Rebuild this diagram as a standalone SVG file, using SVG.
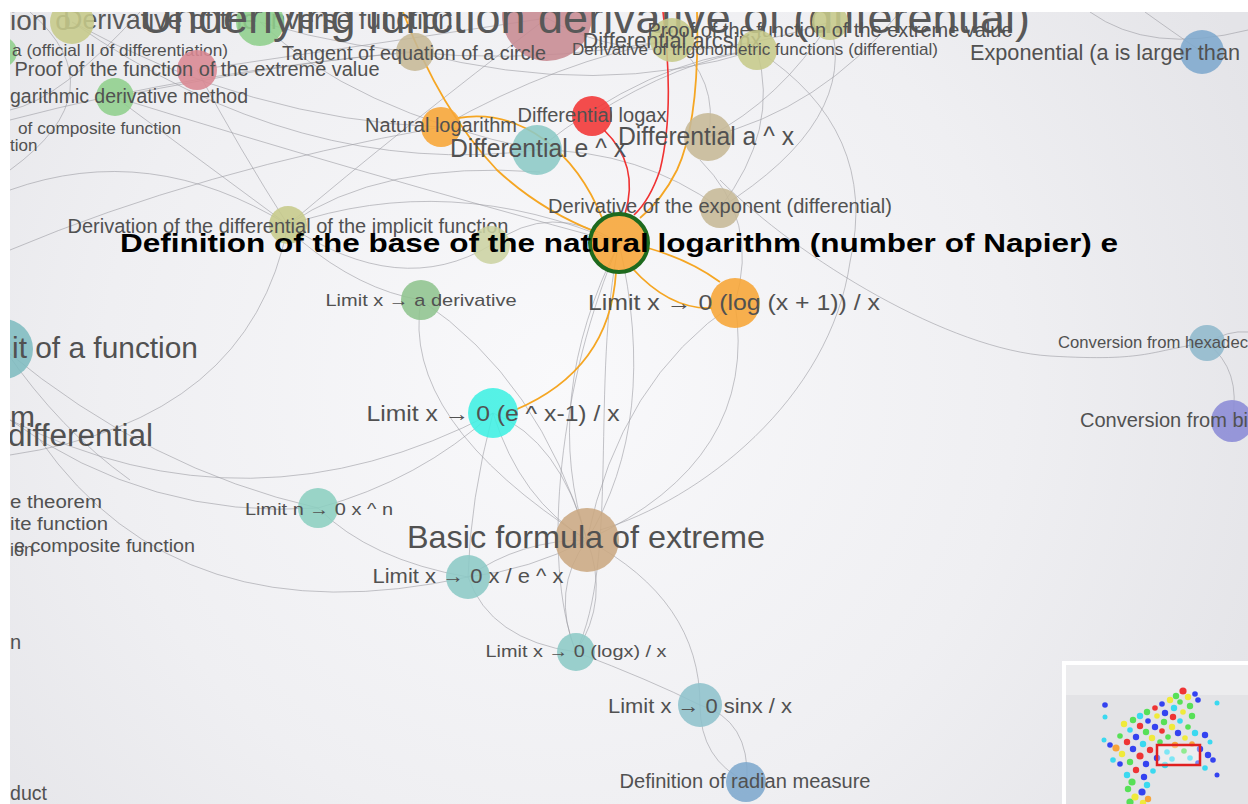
<svg xmlns="http://www.w3.org/2000/svg" width="1248" height="804" viewBox="0 0 1248 804">
<defs>
<radialGradient id="bg" cx="560" cy="380" r="760" gradientUnits="userSpaceOnUse">
<stop offset="0" stop-color="#f9f9fb"/>
<stop offset="0.6" stop-color="#efeff2"/>
<stop offset="1" stop-color="#e4e4e8"/>
</radialGradient>
<clipPath id="view"><rect x="10" y="12" width="1238" height="792"/></clipPath>
<clipPath id="mini"><rect x="1064" y="663" width="184" height="141"/></clipPath>
<style>
.e{fill:none;stroke:#9c9ca4;stroke-width:1;stroke-opacity:0.6}
.eo{fill:none;stroke:#f5a623;stroke-width:1.8}
.er{fill:none;stroke:#f03232;stroke-width:1.6}
text{font-family:"Liberation Sans",Arial,sans-serif;fill:#515151}
.c{text-anchor:middle}
.n circle{fill-opacity:0.88}
.ol{fill:#c6c98a}.gr{fill:#8fcf8c}.pk{fill:#d98892}.tn{fill:#c6b896}.mv{fill:#c78a92}
.bl{fill:#7ea8cd}.or{fill:#f7a535}.rd{fill:#f33434}.tl{fill:#8ccac6}.cy{fill:#3ff0e2}.pu{fill:#8b8bd6}
.big{fill:#585858}
#minimap circle{fill-opacity:0.95}
</style>
</defs>
<rect width="1248" height="804" fill="#ffffff"/>
<g clip-path="url(#view)">
<rect x="10" y="12" width="1238" height="792" fill="url(#bg)"/>
<g id="connectors">
<path class="e" d="M72 22 Q250 120 441 127"/>
<path class="e" d="M260 22 Q350 110 537 150"/>
<path class="e" d="M197 70 Q400 40 547 18"/>
<path class="e" d="M115 97 Q300 60 415 52"/>
<path class="e" d="M115 97 Q350 170 619 243"/>
<path class="e" d="M72 22 Q300 180 537 150"/>
<path class="e" d="M10 120 Q200 70 415 52"/>
<path class="e" d="M260 22 Q450 80 672 40"/>
<path class="e" d="M415 52 Q600 100 757 50"/>
<path class="e" d="M547 18 Q650 80 830 22"/>
<path class="e" d="M441 127 Q560 60 672 40"/>
<path class="e" d="M537 150 Q650 60 757 50"/>
<path class="e" d="M592 116 Q680 60 757 50"/>
<path class="e" d="M708 137 Q720 80 672 40"/>
<path class="e" d="M708 137 Q780 100 830 22"/>
<path class="e" d="M720 208 Q640 150 537 150"/>
<path class="e" d="M720 208 Q780 130 757 50"/>
<path class="e" d="M288 225 Q400 130 547 18"/>
<path class="e" d="M288 225 Q450 170 619 243"/>
<path class="e" d="M288 225 Q400 300 491 245"/>
<path class="e" d="M491 245 Q550 200 619 243"/>
<path class="e" d="M10 190 Q150 140 288 225"/>
<path class="e" d="M10 250 Q200 170 441 127"/>
<path class="e" d="M115 97 Q200 160 288 225"/>
<path class="e" d="M197 70 Q240 150 288 225"/>
<path class="e" d="M30 12 Q120 90 10 170"/>
<path class="e" d="M140 12 Q60 100 10 110"/>
<path class="e" d="M830 22 Q860 120 720 208"/>
<path class="e" d="M708 137 Q820 110 900 12"/>
<path class="e" d="M757 50 Q880 130 850 262 C830 400 700 500 600 530"/>
<path class="e" d="M700 160 Q760 220 735 303"/>
<path class="e" d="M720 180 C800 260 950 350 1050 356 S1150 350 1207 343"/>
<path class="e" d="M1207 343 Q1242 370 1232 421"/>
<path class="e" d="M1207 343 Q1228 330 1248 332"/>
<path class="e" d="M1090 12 Q1150 55 1248 30"/>
<path class="e" d="M1145 12 Q1170 30 1202 52"/>
<path class="e" d="M288 225 Q380 160 540 172"/>
<path class="e" d="M300 240 Q360 290 421 300"/>
<path class="e" d="M421 300 Q400 420 587 540"/>
<path class="e" d="M421 300 Q540 380 587 540"/>
<path class="e" d="M619 243 Q540 400 587 540"/>
<path class="e" d="M619 243 Q660 420 587 540"/>
<path class="e" d="M735 303 Q760 460 587 540"/>
<path class="e" d="M735 303 Q620 380 587 540"/>
<path class="e" d="M493 413 Q520 500 587 540"/>
<path class="e" d="M493 413 Q560 440 587 540"/>
<path class="e" d="M493 413 Q420 480 318 508"/>
<path class="e" d="M493 413 Q470 500 468 577"/>
<path class="e" d="M5 350 Q150 470 318 508"/>
<path class="e" d="M318 508 Q150 520 10 420"/>
<path class="e" d="M10 420 Q250 540 493 413"/>
<path class="e" d="M40 440 Q180 640 468 577"/>
<path class="e" d="M288 225 Q250 420 10 455"/>
<path class="e" d="M5 350 Q60 430 130 480"/>
<path class="e" d="M318 508 Q370 560 468 577"/>
<path class="e" d="M587 540 Q550 590 576 652"/>
<path class="e" d="M587 540 Q610 600 576 652"/>
<path class="e" d="M587 540 Q700 600 700 705"/>
<path class="e" d="M468 577 Q490 640 576 652"/>
<path class="e" d="M576 652 Q650 680 700 705"/>
<path class="e" d="M700 705 Q700 760 747 782"/>
<path class="e" d="M700 705 Q750 720 747 782"/>
<path class="e" d="M468 577 Q530 570 587 540"/>
<path class="e" d="M468 577 Q520 540 587 540"/>
<path class="e" d="M576 652 C540 560 560 380 619 243"/>
<path class="e" d="M576 652 C620 560 590 380 619 243"/>
<path class="eo" d="M403 12 Q440 110 497 170 Q540 210 596 232"/>
<path class="eo" d="M458 118 C520 108 575 150 603 220"/>
<path class="eo" d="M697 12 Q700 120 677 170 Q662 200 640 218"/>
<path class="eo" d="M648 248 Q690 260 720 282"/>
<path class="eo" d="M632 268 Q670 310 712 308"/>
<path class="eo" d="M616 272 Q610 370 515 410"/>
<path class="er" d="M604 130 Q640 165 625 214"/>
<path class="er" d="M663 12 Q675 110 660 170 Q650 200 634 215"/>
</g>

<g id="top-labels">
<text x="10" y="30" font-size="28" class="big">ion o</text>
<text class="c big" x="258" y="29" font-size="28" textLength="390" lengthAdjust="spacingAndGlyphs">Derivative of the inverse function</text>
</g>

<g id="node-olive-tl" class="n"><circle class="ol" cx="72" cy="22" r="22"/></g>
<g id="node-green-top" class="n"><circle class="gr" cx="260" cy="22" r="24"/></g>
<g id="node-green-left" class="n"><circle class="gr" cx="2" cy="52" r="15"/>
<text x="12" y="56" font-size="16.5" textLength="216" lengthAdjust="spacingAndGlyphs">a (official II of differentiation)</text></g>
<g id="node-mauve" class="n"><circle class="mv" cx="547" cy="16" r="45"/>
<text x="1030" y="33" font-size="45" class="big" text-anchor="end">Underlying function derivative of (differential)</text></g>
<g id="node-proof-left" class="n"><circle class="pk" cx="197" cy="70" r="20"/>
<text class="c" x="197" y="76" font-size="20" textLength="365" lengthAdjust="spacingAndGlyphs">Proof of the function of the extreme value</text></g>
<g id="node-logderiv" class="n"><circle class="gr" cx="115" cy="97" r="19"/>
<text x="10" y="103" font-size="20" textLength="238" lengthAdjust="spacingAndGlyphs">garithmic derivative method</text></g>
<g id="node-composite" class="n">
<text x="18" y="134" font-size="17" textLength="163" lengthAdjust="spacingAndGlyphs">of composite function</text>
<text x="10" y="151" font-size="17">tion</text></g>
<g id="node-tangent" class="n"><circle class="tn" cx="415" cy="52" r="19"/>
<text class="c" x="414" y="60" font-size="20" textLength="264" lengthAdjust="spacingAndGlyphs">Tangent of equation of a circle</text></g>
<g id="node-arcsin" class="n"><circle class="ol" cx="672" cy="40" r="22"/>
<text class="c" x="672" y="48" font-size="22" textLength="179" lengthAdjust="spacingAndGlyphs">Differential arcsinx</text></g>
<g id="node-proof-right" class="n"><circle class="ol" cx="830" cy="22" r="18"/>
<text class="c" x="830" y="37" font-size="20" textLength="365" lengthAdjust="spacingAndGlyphs">Proof of the function of the extreme value</text></g>
<g id="node-trig" class="n"><circle class="ol" cx="757" cy="50" r="20"/>
<text class="c" x="755" y="55" font-size="17" textLength="366" lengthAdjust="spacingAndGlyphs">Derivative of trigonometric functions (differential)</text></g>
<g id="node-exponential" class="n"><circle class="bl" cx="1202" cy="52" r="22"/>
<text x="970" y="60" font-size="22" textLength="270" lengthAdjust="spacingAndGlyphs">Exponential (a is larger than</text></g>
<g id="node-natlog" class="n"><circle class="or" cx="441" cy="127" r="20"/>
<text class="c" x="441" y="132" font-size="20" textLength="152" lengthAdjust="spacingAndGlyphs">Natural logarithm</text></g>
<g id="node-ex" class="n"><circle class="tl" cx="537" cy="150" r="25"/>
<text class="c" x="538" y="157" font-size="25" textLength="176" lengthAdjust="spacingAndGlyphs">Differential e ^ x</text></g>
<g id="node-logax" class="n"><circle class="rd" cx="592" cy="116" r="20"/>
<text class="c" x="592" y="122" font-size="20" textLength="149" lengthAdjust="spacingAndGlyphs">Differential logax</text></g>
<g id="node-ax" class="n"><circle class="tn" cx="708" cy="137" r="24"/>
<text class="c" x="706" y="145" font-size="25" textLength="176" lengthAdjust="spacingAndGlyphs">Differential a ^ x</text></g>
<g id="node-implicit" class="n"><circle class="ol" cx="288" cy="225" r="19"/>
<text class="c" x="288" y="233" font-size="20" textLength="441" lengthAdjust="spacingAndGlyphs">Derivation of the differential of the implicit function</text></g>
<g id="node-hidden" class="n"><circle cx="491" cy="245" r="19" fill="#ccd3a2"/></g>
<g id="node-exponent" class="n"><circle class="tn" cx="720" cy="208" r="20"/>
<text class="c" x="720" y="213" font-size="20" textLength="344" lengthAdjust="spacingAndGlyphs">Derivative of the exponent (differential)</text></g>
<g id="node-limit-a" class="n"><circle cx="421" cy="300" r="20" fill="#8fc48e"/>
<text class="c" x="421" y="306" font-size="17" textLength="191" lengthAdjust="spacingAndGlyphs">Limit x → a derivative</text></g>
<g id="node-limit-log1" class="n"><circle class="or" cx="735" cy="303" r="25"/>
<text class="c" x="734" y="310" font-size="22" textLength="292" lengthAdjust="spacingAndGlyphs">Limit x → 0 (log (x + 1)) / x</text></g>
<g id="node-limit-function" class="n"><circle cx="3" cy="349" r="30" fill="#7fbcc0"/>
<text x="12" y="358" font-size="30" textLength="186" lengthAdjust="spacingAndGlyphs">it of a function</text></g>
<g id="node-left-diff" class="n">
<text x="10" y="427" font-size="30">m</text>
<text x="8" y="446" font-size="31" textLength="145" lengthAdjust="spacingAndGlyphs">differential</text></g>
<g id="node-limit-ex1" class="n"><circle class="cy" cx="493" cy="413" r="25"/>
<text class="c" x="493" y="421" font-size="22" textLength="253" lengthAdjust="spacingAndGlyphs">Limit x → 0 (e ^ x-1) / x</text></g>
<g id="node-left-lower" class="n">
<text x="10" y="508" font-size="18" textLength="92" lengthAdjust="spacingAndGlyphs">e theorem</text>
<text x="10" y="530" font-size="18" textLength="98" lengthAdjust="spacingAndGlyphs">ite function</text>
<text x="14" y="552" font-size="18" textLength="181" lengthAdjust="spacingAndGlyphs">e composite function</text>
<text x="10" y="556" font-size="18">ion</text>
<text x="10" y="649" font-size="20">n</text>
<text x="10" y="800" font-size="20" textLength="37" lengthAdjust="spacingAndGlyphs">duct</text></g>
<g id="node-limit-xn" class="n"><circle cx="318" cy="508" r="20" fill="#8ccfc0"/>
<text class="c" x="319" y="515" font-size="17" textLength="148" lengthAdjust="spacingAndGlyphs">Limit n → 0 x ^ n</text></g>
<g id="node-basic" class="n"><circle cx="587" cy="540" r="32" fill="#cba982"/>
<text class="c" x="586" y="548" font-size="32" textLength="358" lengthAdjust="spacingAndGlyphs">Basic formula of extreme</text></g>
<g id="node-limit-xex" class="n"><circle class="tl" cx="468" cy="577" r="22"/>
<text class="c" x="468" y="583" font-size="20" textLength="191" lengthAdjust="spacingAndGlyphs">Limit x → 0 x / e ^ x</text></g>
<g id="node-limit-logx" class="n"><circle class="tl" cx="576" cy="652" r="19"/>
<text class="c" x="576" y="657" font-size="17" textLength="181" lengthAdjust="spacingAndGlyphs">Limit x → 0 (logx) / x</text></g>
<g id="node-limit-sinx" class="n"><circle cx="700" cy="705" r="22" fill="#8ec2cc"/>
<text class="c" x="700" y="713" font-size="21" textLength="184" lengthAdjust="spacingAndGlyphs">Limit x → 0 sinx / x</text></g>
<g id="node-radian" class="n"><circle class="bl" cx="746" cy="782" r="20"/>
<text class="c" x="745" y="788" font-size="20" textLength="251" lengthAdjust="spacingAndGlyphs">Definition of radian measure</text></g>
<g id="node-hex" class="n"><circle cx="1207" cy="343" r="18" fill="#8fb8cc"/>
<text x="1058" y="348" font-size="17" textLength="190" lengthAdjust="spacingAndGlyphs">Conversion from hexadec</text></g>
<g id="node-bin" class="n"><circle class="pu" cx="1232" cy="421" r="21"/>
<text x="1080" y="427" font-size="20" textLength="168" lengthAdjust="spacingAndGlyphs">Conversion from bi</text></g>
<g id="node-napier" class="n"><circle cx="619" cy="243" r="29" fill="#f7a535" stroke="#1e6a1e" stroke-width="4"/>
<text class="c" x="619" y="252" font-size="26" font-weight="bold" style="fill:#000" textLength="998" lengthAdjust="spacingAndGlyphs">Definition of the base of the natural logarithm (number of Napier) e</text></g>

<g id="minimap">
<rect x="1064" y="663" width="186" height="143" fill="#e3e3e6" stroke="#ffffff" stroke-width="4"/>
<g clip-path="url(#mini)">
<rect x="1066" y="665" width="182" height="30" fill="#ececee"/>
<g fill="#2a3af0">
<circle cx="1195" cy="694" r="2.8"/><circle cx="1198" cy="700" r="2.8"/><circle cx="1162" cy="704" r="2.8"/><circle cx="1165" cy="713" r="3.2"/><circle cx="1148" cy="721" r="2.8"/><circle cx="1155" cy="727" r="3.2"/><circle cx="1178" cy="733" r="3.2"/><circle cx="1136" cy="737" r="3.2"/><circle cx="1205" cy="735" r="3.2"/><circle cx="1133" cy="749" r="3.2"/><circle cx="1200" cy="749" r="3.2"/><circle cx="1208" cy="755" r="3.2"/><circle cx="1157" cy="758" r="3.2"/><circle cx="1146" cy="764" r="3.2"/><circle cx="1198" cy="763" r="2.8"/><circle cx="1144" cy="777" r="3.2"/><circle cx="1142" cy="792" r="3.6"/><circle cx="1110" cy="745" r="2.8"/><circle cx="1213" cy="760" r="2.8"/><circle cx="1105" cy="705" r="2.8"/><circle cx="1217" cy="775" r="2.5"/><circle cx="1120" cy="764" r="2.8"/>
</g>
<g fill="#30d8f0">
<circle cx="1174" cy="708" r="3.2"/><circle cx="1140" cy="716" r="3.2"/><circle cx="1180" cy="721" r="2.8"/><circle cx="1130" cy="730" r="2.8"/><circle cx="1195" cy="733" r="3.2"/><circle cx="1143" cy="744" r="3.2"/><circle cx="1167" cy="752" r="2.8"/><circle cx="1172" cy="759" r="2.8"/><circle cx="1190" cy="758" r="2.8"/><circle cx="1113" cy="760" r="2.8"/><circle cx="1165" cy="765" r="3.2"/><circle cx="1205" cy="768" r="2.8"/><circle cx="1153" cy="771" r="2.8"/><circle cx="1127" cy="775" r="3.2"/><circle cx="1147" cy="785" r="3.2"/><circle cx="1104" cy="740" r="2.5"/><circle cx="1210" cy="742" r="2.5"/><circle cx="1105" cy="717" r="2.5"/><circle cx="1217" cy="703" r="2.5"/>
</g>
<g fill="#4fdf4f">
<circle cx="1176" cy="696" r="3.2"/><circle cx="1180" cy="702" r="2.8"/><circle cx="1190" cy="706" r="3.2"/><circle cx="1147" cy="712" r="3.2"/><circle cx="1192" cy="716" r="3.2"/><circle cx="1133" cy="720" r="3.2"/><circle cx="1164" cy="722" r="3.2"/><circle cx="1188" cy="727" r="2.8"/><circle cx="1146" cy="732" r="3.2"/><circle cx="1120" cy="736" r="2.8"/><circle cx="1168" cy="737" r="2.8"/><circle cx="1160" cy="742" r="2.8"/><circle cx="1184" cy="751" r="2.8"/><circle cx="1130" cy="762" r="3.2"/><circle cx="1132" cy="782" r="3.6"/><circle cx="1128" cy="789" r="3.2"/><circle cx="1130" cy="802" r="3.6"/>
</g>
<g fill="#f0ea30">
<circle cx="1188" cy="697" r="3.2"/><circle cx="1170" cy="700" r="3.2"/><circle cx="1183" cy="712" r="2.8"/><circle cx="1157" cy="716" r="2.8"/><circle cx="1124" cy="724" r="3.2"/><circle cx="1172" cy="727" r="3.2"/><circle cx="1152" cy="738" r="3.2"/><circle cx="1185" cy="738" r="2.8"/><circle cx="1122" cy="754" r="3.2"/><circle cx="1135" cy="797" r="3.6"/><circle cx="1143" cy="803" r="3.2"/>
</g>
<g fill="#f8a030">
<circle cx="1175" cy="745" r="3.2"/><circle cx="1192" cy="744" r="2.8"/><circle cx="1116" cy="748" r="3.6"/><circle cx="1148" cy="799" r="3.2"/>
</g>
<g fill="#ee2a2a">
<circle cx="1183" cy="691" r="3.6"/><circle cx="1155" cy="708" r="2.8"/><circle cx="1173" cy="717" r="3.2"/><circle cx="1140" cy="726" r="3.2"/><circle cx="1162" cy="731" r="2.8"/><circle cx="1127" cy="742" r="3.2"/><circle cx="1150" cy="750" r="3.2"/><circle cx="1140" cy="756" r="3.6"/><circle cx="1136" cy="770" r="3.2"/>
</g>
<rect x="1157" y="745" width="43" height="20" fill="#ffffff" fill-opacity="0.35" stroke="#e02020" stroke-width="2.5"/>
</g>
</g>
</g>
</svg>
